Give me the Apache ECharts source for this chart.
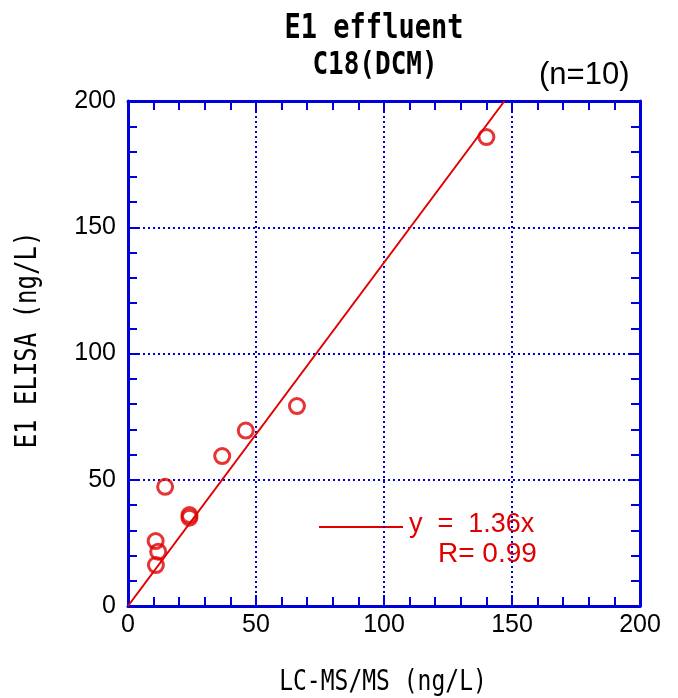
<!DOCTYPE html>
<html>
<head>
<meta charset="utf-8">
<script src="https://cdn.jsdelivr.net/npm/echarts@6/dist/echarts.min.js"></script>
<style>
	html, body { margin: 0; padding: 0; background: #fff; }
	#main { width: 678px; height: 698px; }
</style>
</head>
<body>
<div id="main"></div>
<script>
// measured points (LC-MS/MS vs ELISA)
var lcms = [140, 66, 46, 36.8, 14.5, 24, 24, 10.8, 11.8, 10.9];
var elisa = [185.7, 79.2, 69.5, 59.4, 47.2, 36, 35, 25.7, 21.5, 16.2];
// regression y = 1.36x
var slope = 1.36;
var fitX = [0, 200 / slope];
var fitY = [0, 200];
var ticks = [0, 50, 100, 150, 200];

var blue = '#0000dd';
var red = '#e00000';
var mono = 'DejaVu Sans Mono';
var sans = 'Liberation Sans';

var pts = [];
for (var i = 0; i < lcms.length; i++) {
	pts.push([lcms[i], elisa[i]]);
}
var fit = [];
for (var j = 0; j < fitX.length; j++) {
	fit.push([fitX[j], fitY[j]]);
}

function axisBase(show, grid) {
	return {
		type: 'value',
		min: ticks[0],
		max: ticks[ticks.length - 1],
		interval: ticks[1] - ticks[0],
		axisLine: { show: true, onZero: false, lineStyle: { color: blue, width: 3 } },
		axisTick: { show: true, inside: true, length: 11, lineStyle: { color: blue, width: 2 } },
		minorTick: { show: true, splitNumber: 5, length: 9, lineStyle: { color: blue, width: 2 } },
		axisLabel: {
			show: show,
			color: '#000',
			fontSize: 25,
			fontFamily: sans
		},
		splitLine: grid ? { show: true, lineStyle: { color: blue, type: [2, 3], width: 2 } } : { show: false }
	};
}

var xBottom = axisBase(true, true);
xBottom.position = 'bottom';
xBottom.axisLabel.margin = 7;

var xTop = axisBase(false, false);
xTop.position = 'top';

var yLeft = axisBase(true, true);
yLeft.position = 'left';
yLeft.axisLabel.margin = 12;

var yRight = axisBase(false, false);
yRight.position = 'right';

// tall monospace text like the original plot
function tallText(txt, x, y, size, opt) {
	opt = opt || {};
	return {
		type: 'text',
		x: x,
		y: y,
		rotation: opt.rotation || 0,
		scaleY: 1.22,
		style: {
			text: txt,
			fill: '#000',
			fontSize: size,
			fontWeight: opt.bold ? 'bold' : 'normal',
			fontFamily: mono,
			align: 'center',
			verticalAlign: 'middle'
		}
	};
}

var ec = echarts.init(document.getElementById('main'));
ec.setOption({
	animation: false,
	backgroundColor: '#fff',
	grid: {
		left: 128,
		right: 38,
		top: 101,
		bottom: 92
	},
	xAxis: [xBottom, xTop],
	yAxis: [yLeft, yRight],
	graphic: [
		tallText('E1 effluent', 374, 29, 27, { bold: true }),
		tallText('C18(DCM)', 375, 66, 26, { bold: true }),
		tallText('LC-MS/MS (ng/L)', 383, 683, 23),
		tallText('E1 ELISA (ng/L)', 28, 340, 24, { rotation: Math.PI / 2 }),
		{
			type: 'text',
			left: 539,
			top: 60,
			style: { text: '(n=10)', fill: '#000', fontSize: 31, fontFamily: sans }
		}, {
			type: 'line',
			shape: { x1: 319, y1: 527, x2: 403, y2: 527 },
			style: { stroke: red, lineWidth: 2 }
		}, {
			type: 'text',
			left: 409,
			top: 511,
			style: { text: 'y  =  1.36x', fill: red, fontSize: 27, fontFamily: sans }
		}, {
			type: 'text',
			left: 438,
			top: 540,
			style: { text: 'R= 0.99', fill: red, fontSize: 28, fontFamily: sans }
		}
	],
	series: [{
		type: 'line',
		data: fit,
		symbol: 'none',
		clip: true,
		lineStyle: { color: red, width: 2 },
		z: 3
	}, {
		type: 'scatter',
		data: pts,
		symbol: 'circle',
		symbolSize: 15,
		itemStyle: { color: 'transparent', borderColor: red, borderWidth: 3 },
		z: 4
	}, {
		// keeps the top and right frame axes drawn
		type: 'scatter',
		xAxisIndex: 1,
		yAxisIndex: 1,
		data: [],
		silent: true
	}]
});
</script>
</body>
</html>
